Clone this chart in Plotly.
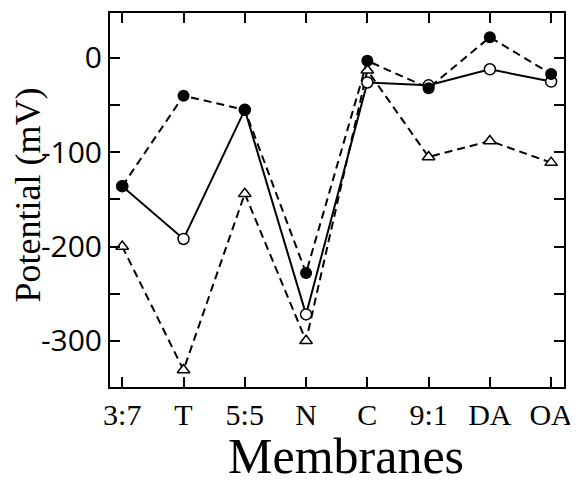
import plotly.graph_objects as go

categories = ["3:7", "T", "5:5", "N", "C", "9:1", "DA", "OA"]
filled_circle = [-136, -40, -55, -228, -3, -32, 22, -17]
open_circle = [-136, -192, -55, -272, -26, -29, -12, -25]
open_triangle = [-200, -331, -144, -300, -13, -105, -88, -111]

x = list(range(len(categories)))
fig = go.Figure()

fig.add_trace(go.Scatter(x=x, y=open_triangle, mode="lines+markers", cliponaxis=False,
    line=dict(color="black", width=2, dash="8px,5px"),
    marker=dict(symbol="triangle-up", size=11, color="white", line=dict(color="black", width=1.5))))
fig.add_trace(go.Scatter(x=x, y=open_circle, mode="lines+markers", cliponaxis=False,
    line=dict(color="black", width=2),
    marker=dict(symbol="circle", size=11, color="white", line=dict(color="black", width=1.5))))
fig.add_trace(go.Scatter(x=x, y=filled_circle, mode="lines+markers", cliponaxis=False,
    line=dict(color="black", width=2, dash="8px,5px"),
    marker=dict(symbol="circle", size=12, color="black")))

# page body has an 8px margin, so the figure is sized/offset to compensate
fig.update_layout(
    width=570, height=476,
    margin=dict(l=102, r=14, t=5, b=97, autoexpand=False),
    plot_bgcolor="white", paper_bgcolor="white",
    showlegend=False,
    font=dict(family="Liberation Serif", color="black", size=22),
    annotations=[
        dict(text="Membranes", xref="paper", yref="paper", x=0.52, y=-0.185,
             xanchor="center", yanchor="middle", showarrow=False,
             font=dict(family="Liberation Serif", size=50, color="black")),
        dict(text="Potential (mV)", xref="paper", yref="paper", x=-0.18, y=0.513,
             xanchor="center", yanchor="middle", showarrow=False, textangle=-90,
             font=dict(family="Liberation Serif", size=36, color="black")),
    ],
)
fig.update_xaxes(
    range=[-0.2, 7.21], tickmode="array", tickvals=x, ticktext=categories,
    ticks="inside", ticklen=10, tickwidth=1.5, tickcolor="black",
    showline=True, linecolor="black", linewidth=2, mirror="allticks",
    showgrid=False, zeroline=False, automargin=False,
    tickfont=dict(family="Liberation Serif", size=30),
)
fig.update_yaxes(
    range=[-349, 47.7], tickmode="array", tickvals=[0, -100, -200, -300],
    ticktext=["0", "-100", "-200", "-300"],
    ticks="inside", ticklen=10, tickwidth=1.5, tickcolor="black",
    minor=dict(tickvals=[-50, -150, -250], ticks="inside", ticklen=10, tickwidth=1.5, tickcolor="black"),
    showline=True, linecolor="black", linewidth=2, mirror="allticks",
    showgrid=False, zeroline=False, automargin=False,
    tickfont=dict(family="Liberation Sans Narrow, Open Sans", size=30),
)
fig.write_html("out.html")
